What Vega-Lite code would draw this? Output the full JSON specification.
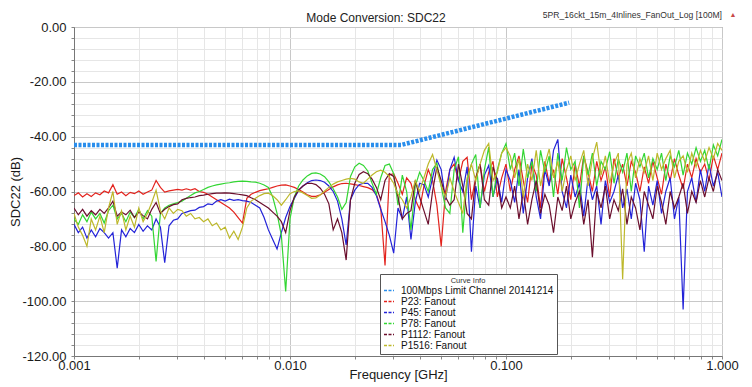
{
 "$schema": "https://vega.github.io/schema/vega-lite/v6.json",
 "width": 648, "height": 329,
 "autosize": {"type": "none"},
 "padding": {"left": 74, "top": 27, "right": 30, "bottom": 31},
 "background": "white",
 "title": {"text": "Mode Conversion: SDC22", "fontSize": 12, "fontWeight": "normal", "font": "Liberation Sans", "color": "#222", "anchor": "middle", "dx": -22, "offset": 0, "dy": 14},
 "config": {
  "font": "Liberation Sans",
  "view": {"stroke": "#8a8a8a", "strokeWidth": 1},
  "axis": {"labelFont": "Liberation Sans", "titleFont": "Liberation Sans", "labelFontSize": 13, "titleFontSize": 13, "titleFontWeight": "normal", "labelColor": "#1a1a1a", "titleColor": "#1a1a1a", "domainColor": "#777", "tickColor": "#888", "gridWidth": 1}
 },
 "datasets": {
  "limit": [
   {"f": 0.001, "v": -43, "s": "100Mbps Limit Channel 20141214"},
   {"f": 0.0328, "v": -43, "s": "100Mbps Limit Channel 20141214"},
   {"f": 0.196, "v": -27.6, "s": "100Mbps Limit Channel 20141214"}
  ],
  "notes": [
   {"f": 1, "v": 0, "note": "5PR_16ckt_15m_4Inlines_FanOut_Log [100M]", "mark": "▲"}
  ],
  "traces": [
   {"f":0.001,"P23: Fanout":-61.5,"P45: Fanout":-72,"P78: Fanout":-70,"P1112: Fanout":-66,"P1516: Fanout":-68},
   {"f":0.001047,"P23: Fanout":-60.5,"P45: Fanout":-75,"P78: Fanout":-72,"P1112: Fanout":-68.5,"P1516: Fanout":-73},
   {"f":0.001096,"P23: Fanout":-62,"P45: Fanout":-73,"P78: Fanout":-68.5,"P1112: Fanout":-66.5,"P1516: Fanout":-76},
   {"f":0.001148,"P23: Fanout":-60.8,"P45: Fanout":-77,"P78: Fanout":-71,"P1112: Fanout":-69,"P1516: Fanout":-80},
   {"f":0.001202,"P23: Fanout":-61.8,"P45: Fanout":-74,"P78: Fanout":-67.5,"P1112: Fanout":-67,"P1516: Fanout":-70},
   {"f":0.001259,"P23: Fanout":-60.5,"P45: Fanout":-76.5,"P78: Fanout":-70,"P1112: Fanout":-68.5,"P1516: Fanout":-74},
   {"f":0.001318,"P23: Fanout":-61.2,"P45: Fanout":-73.5,"P78: Fanout":-68,"P1112: Fanout":-66.5,"P1516: Fanout":-69},
   {"f":0.00138,"P23: Fanout":-59.8,"P45: Fanout":-75,"P78: Fanout":-71.5,"P1112: Fanout":-68,"P1516: Fanout":-75},
   {"f":0.001445,"P23: Fanout":-60.5,"P45: Fanout":-77,"P78: Fanout":-67,"P1112: Fanout":-66,"P1516: Fanout":-66},
   {"f":0.001514,"P23: Fanout":-57.5,"P45: Fanout":-75,"P78: Fanout":-65,"P1112: Fanout":-63.5,"P1516: Fanout":-60},
   {"f":0.001585,"P23: Fanout":-61,"P45: Fanout":-88,"P78: Fanout":-70,"P1112: Fanout":-69,"P1516: Fanout":-72},
   {"f":0.00166,"P23: Fanout":-60.2,"P45: Fanout":-74,"P78: Fanout":-68,"P1112: Fanout":-67.5,"P1516: Fanout":-67},
   {"f":0.001738,"P23: Fanout":-61.5,"P45: Fanout":-76.5,"P78: Fanout":-71,"P1112: Fanout":-68.5,"P1516: Fanout":-74},
   {"f":0.00182,"P23: Fanout":-60.3,"P45: Fanout":-73.5,"P78: Fanout":-67.5,"P1112: Fanout":-66.8,"P1516: Fanout":-69},
   {"f":0.001905,"P23: Fanout":-60.8,"P45: Fanout":-75,"P78: Fanout":-69.5,"P1112: Fanout":-69.5,"P1516: Fanout":-73},
   {"f":0.001995,"P23: Fanout":-59.8,"P45: Fanout":-72,"P78: Fanout":-66.5,"P1112: Fanout":-67.5,"P1516: Fanout":-66},
   {"f":0.002089,"P23: Fanout":-61,"P45: Fanout":-74.5,"P78: Fanout":-70,"P1112: Fanout":-68.8,"P1516: Fanout":-71},
   {"f":0.002188,"P23: Fanout":-60.2,"P45: Fanout":-72.5,"P78: Fanout":-67,"P1112: Fanout":-70,"P1516: Fanout":-68},
   {"f":0.002291,"P23: Fanout":-59.5,"P45: Fanout":-74,"P78: Fanout":-69,"P1112: Fanout":-66.5,"P1516: Fanout":-64},
   {"f":0.002399,"P23: Fanout":-56,"P45: Fanout":-70,"P78: Fanout":-85.5,"P1112: Fanout":-64,"P1516: Fanout":-59.5},
   {"f":0.002512,"P23: Fanout":-58.5,"P45: Fanout":-73,"P78: Fanout":-68,"P1112: Fanout":-68,"P1516: Fanout":-67},
   {"f":0.00263,"P23: Fanout":-60.2,"P45: Fanout":-86,"P78: Fanout":-66,"P1112: Fanout":-66.5,"P1516: Fanout":-70},
   {"f":0.002754,"P23: Fanout":-59.8,"P45: Fanout":-72.5,"P78: Fanout":-65,"P1112: Fanout":-65.5,"P1516: Fanout":-66},
   {"f":0.002884,"P23: Fanout":-59.5,"P45: Fanout":-70.5,"P78: Fanout":-64.5,"P1112: Fanout":-64.8,"P1516: Fanout":-68},
   {"f":0.00302,"P23: Fanout":-59.2,"P45: Fanout":-70,"P78: Fanout":-64,"P1112: Fanout":-64.5,"P1516: Fanout":-66.5},
   {"f":0.003162,"P23: Fanout":-59.5,"P45: Fanout":-68,"P78: Fanout":-63.5,"P1112: Fanout":-63,"P1516: Fanout":-67},
   {"f":0.003311,"P23: Fanout":-59,"P45: Fanout":-67.5,"P78: Fanout":-62.5,"P1112: Fanout":-62.5,"P1516: Fanout":-69},
   {"f":0.003467,"P23: Fanout":-59.5,"P45: Fanout":-67,"P78: Fanout":-61.5,"P1112: Fanout":-62.2,"P1516: Fanout":-68},
   {"f":0.003631,"P23: Fanout":-59,"P45: Fanout":-66.8,"P78: Fanout":-60.5,"P1112: Fanout":-62,"P1516: Fanout":-70},
   {"f":0.003802,"P23: Fanout":-60,"P45: Fanout":-65.8,"P78: Fanout":-60,"P1112: Fanout":-61.5,"P1516: Fanout":-69.5},
   {"f":0.003981,"P23: Fanout":-60.3,"P45: Fanout":-65.5,"P78: Fanout":-59.3,"P1112: Fanout":-61.3,"P1516: Fanout":-71},
   {"f":0.004169,"P23: Fanout":-61,"P45: Fanout":-64.5,"P78: Fanout":-58.5,"P1112: Fanout":-61,"P1516: Fanout":-70},
   {"f":0.004365,"P23: Fanout":-62,"P45: Fanout":-64.8,"P78: Fanout":-58,"P1112: Fanout":-60.8,"P1516: Fanout":-72.5},
   {"f":0.004571,"P23: Fanout":-63,"P45: Fanout":-63.5,"P78: Fanout":-57.6,"P1112: Fanout":-60.6,"P1516: Fanout":-71.5},
   {"f":0.004786,"P23: Fanout":-64,"P45: Fanout":-63,"P78: Fanout":-57.3,"P1112: Fanout":-60.6,"P1516: Fanout":-74},
   {"f":0.005012,"P23: Fanout":-65,"P45: Fanout":-63.5,"P78: Fanout":-57,"P1112: Fanout":-60.5,"P1516: Fanout":-73},
   {"f":0.005248,"P23: Fanout":-66,"P45: Fanout":-62.8,"P78: Fanout":-56.8,"P1112: Fanout":-60.6,"P1516: Fanout":-77},
   {"f":0.005495,"P23: Fanout":-67.5,"P45: Fanout":-63.2,"P78: Fanout":-56.5,"P1112: Fanout":-60.8,"P1516: Fanout":-74.5},
   {"f":0.005754,"P23: Fanout":-69.5,"P45: Fanout":-63,"P78: Fanout":-56.3,"P1112: Fanout":-61,"P1516: Fanout":-77.5},
   {"f":0.006026,"P23: Fanout":-71.5,"P45: Fanout":-63.3,"P78: Fanout":-56.2,"P1112: Fanout":-61.2,"P1516: Fanout":-73},
   {"f":0.00631,"P23: Fanout":-62.5,"P45: Fanout":-63.5,"P78: Fanout":-56.3,"P1112: Fanout":-61.5,"P1516: Fanout":-66},
   {"f":0.006607,"P23: Fanout":-61,"P45: Fanout":-64,"P78: Fanout":-56.5,"P1112: Fanout":-62.3,"P1516: Fanout":-63.5},
   {"f":0.006918,"P23: Fanout":-60.3,"P45: Fanout":-65,"P78: Fanout":-56.6,"P1112: Fanout":-63,"P1516: Fanout":-62.5},
   {"f":0.007244,"P23: Fanout":-59.7,"P45: Fanout":-66,"P78: Fanout":-57,"P1112: Fanout":-64,"P1516: Fanout":-61.5},
   {"f":0.007586,"P23: Fanout":-59.3,"P45: Fanout":-69.5,"P78: Fanout":-57.6,"P1112: Fanout":-65,"P1516: Fanout":-60.8},
   {"f":0.007943,"P23: Fanout":-59,"P45: Fanout":-74,"P78: Fanout":-58.5,"P1112: Fanout":-66,"P1516: Fanout":-60.6},
   {"f":0.008318,"P23: Fanout":-58.5,"P45: Fanout":-77.5,"P78: Fanout":-62,"P1112: Fanout":-67.5,"P1516: Fanout":-61.5},
   {"f":0.00871,"P23: Fanout":-58,"P45: Fanout":-81,"P78: Fanout":-68,"P1112: Fanout":-69,"P1516: Fanout":-63},
   {"f":0.00912,"P23: Fanout":-57.7,"P45: Fanout":-75,"P78: Fanout":-76,"P1112: Fanout":-71,"P1516: Fanout":-65},
   {"f":0.00955,"P23: Fanout":-57.6,"P45: Fanout":-69.5,"P78: Fanout":-96.5,"P1112: Fanout":-75,"P1516: Fanout":-63},
   {"f":0.01,"P23: Fanout":-58,"P45: Fanout":-65.5,"P78: Fanout":-70,"P1112: Fanout":-67,"P1516: Fanout":-60.8},
   {"f":0.010471,"P23: Fanout":-58.5,"P45: Fanout":-62.5,"P78: Fanout":-62,"P1112: Fanout":-62,"P1516: Fanout":-60},
   {"f":0.010965,"P23: Fanout":-59.3,"P45: Fanout":-59.5,"P78: Fanout":-58,"P1112: Fanout":-59.5,"P1516: Fanout":-59.8},
   {"f":0.011482,"P23: Fanout":-60.2,"P45: Fanout":-58,"P78: Fanout":-55.8,"P1112: Fanout":-58,"P1516: Fanout":-60.5},
   {"f":0.012023,"P23: Fanout":-61.2,"P45: Fanout":-56.8,"P78: Fanout":-54.3,"P1112: Fanout":-57,"P1516: Fanout":-61.5},
   {"f":0.012589,"P23: Fanout":-61.8,"P45: Fanout":-56,"P78: Fanout":-53.4,"P1112: Fanout":-57,"P1516: Fanout":-62.5},
   {"f":0.013183,"P23: Fanout":-61.8,"P45: Fanout":-55.8,"P78: Fanout":-53.2,"P1112: Fanout":-57.5,"P1516: Fanout":-62.3},
   {"f":0.013804,"P23: Fanout":-61.2,"P45: Fanout":-56,"P78: Fanout":-53.6,"P1112: Fanout":-58.8,"P1516: Fanout":-61.3},
   {"f":0.014454,"P23: Fanout":-60.3,"P45: Fanout":-56.6,"P78: Fanout":-54.6,"P1112: Fanout":-61,"P1516: Fanout":-59.8},
   {"f":0.015136,"P23: Fanout":-59.3,"P45: Fanout":-58,"P78: Fanout":-56.5,"P1112: Fanout":-64.5,"P1516: Fanout":-58.5},
   {"f":0.015849,"P23: Fanout":-58.3,"P45: Fanout":-60,"P78: Fanout":-59,"P1112: Fanout":-74,"P1516: Fanout":-57.3},
   {"f":0.016596,"P23: Fanout":-57.6,"P45: Fanout":-63.5,"P78: Fanout":-62,"P1112: Fanout":-70,"P1516: Fanout":-56.5},
   {"f":0.017378,"P23: Fanout":-57.1,"P45: Fanout":-70,"P78: Fanout":-66.5,"P1112: Fanout":-75,"P1516: Fanout":-56},
   {"f":0.018197,"P23: Fanout":-57,"P45: Fanout":-79.5,"P78: Fanout":-64,"P1112: Fanout":-85,"P1516: Fanout":-55.5},
   {"f":0.019055,"P23: Fanout":-57.2,"P45: Fanout":-63,"P78: Fanout":-54.5,"P1112: Fanout":-63,"P1516: Fanout":-55.2},
   {"f":0.019953,"P23: Fanout":-57.5,"P45: Fanout":-59.5,"P78: Fanout":-51,"P1112: Fanout":-57,"P1516: Fanout":-55.5},
   {"f":0.020893,"P23: Fanout":-57.8,"P45: Fanout":-57.5,"P78: Fanout":-49.7,"P1112: Fanout":-53.8,"P1516: Fanout":-56.5},
   {"f":0.021878,"P23: Fanout":-58.2,"P45: Fanout":-57,"P78: Fanout":-50.5,"P1112: Fanout":-52.8,"P1516: Fanout":-57},
   {"f":0.022909,"P23: Fanout":-58.6,"P45: Fanout":-57,"P78: Fanout":-52.5,"P1112: Fanout":-53.5,"P1516: Fanout":-55.5},
   {"f":0.023988,"P23: Fanout":-59.3,"P45: Fanout":-58.5,"P78: Fanout":-57,"P1112: Fanout":-55.5,"P1516: Fanout":-54},
   {"f":0.025119,"P23: Fanout":-61,"P45: Fanout":-61.5,"P78: Fanout":-61,"P1112: Fanout":-58.5,"P1516: Fanout":-52.8},
   {"f":0.026303,"P23: Fanout":-66,"P45: Fanout":-66.5,"P78: Fanout":-55,"P1112: Fanout":-63,"P1516: Fanout":-52.2},
   {"f":0.027542,"P23: Fanout":-87,"P45: Fanout":-71,"P78: Fanout":-50.5,"P1112: Fanout":-56,"P1516: Fanout":-53},
   {"f":0.02884,"P23: Fanout":-54,"P45: Fanout":-76,"P78: Fanout":-50,"P1112: Fanout":-53.5,"P1516: Fanout":-54.6},
   {"f":0.0302,"P23: Fanout":-53.5,"P45: Fanout":-82.5,"P78: Fanout":-53.5,"P1112: Fanout":-54.5,"P1516: Fanout":-57},
   {"f":0.031623,"P23: Fanout":-57,"P45: Fanout":-66,"P78: Fanout":-65,"P1112: Fanout":-62,"P1516: Fanout":-61},
   {"f":0.033113,"P23: Fanout":-61,"P45: Fanout":-70,"P78: Fanout":-54,"P1112: Fanout":-70,"P1516: Fanout":-63},
   {"f":0.034674,"P23: Fanout":-55,"P45: Fanout":-62,"P78: Fanout":-60,"P1112: Fanout":-68,"P1516: Fanout":-66},
   {"f":0.036308,"P23: Fanout":-57,"P45: Fanout":-77.5,"P78: Fanout":-74,"P1112: Fanout":-67,"P1516: Fanout":-62},
   {"f":0.038019,"P23: Fanout":-63,"P45: Fanout":-64,"P78: Fanout":-58,"P1112: Fanout":-56,"P1516: Fanout":-56},
   {"f":0.039811,"P23: Fanout":-66.5,"P45: Fanout":-57,"P78: Fanout":-53,"P1112: Fanout":-62,"P1516: Fanout":-60},
   {"f":0.041687,"P23: Fanout":-58,"P45: Fanout":-57.5,"P78: Fanout":-56,"P1112: Fanout":-67,"P1516: Fanout":-55},
   {"f":0.043652,"P23: Fanout":-52,"P45: Fanout":-62,"P78: Fanout":-60,"P1112: Fanout":-72,"P1516: Fanout":-50},
   {"f":0.045709,"P23: Fanout":-56,"P45: Fanout":-55,"P78: Fanout":-52,"P1112: Fanout":-60,"P1516: Fanout":-46.5},
   {"f":0.047863,"P23: Fanout":-65,"P45: Fanout":-48.5,"P78: Fanout":-49.7,"P1112: Fanout":-51,"P1516: Fanout":-52},
   {"f":0.050119,"P23: Fanout":-80,"P45: Fanout":-52,"P78: Fanout":-58,"P1112: Fanout":-56,"P1516: Fanout":-58},
   {"f":0.052481,"P23: Fanout":-60,"P45: Fanout":-63,"P78: Fanout":-66,"P1112: Fanout":-62,"P1516: Fanout":-62},
   {"f":0.054954,"P23: Fanout":-52,"P45: Fanout":-52,"P78: Fanout":-68,"P1112: Fanout":-65,"P1516: Fanout":-55},
   {"f":0.057544,"P23: Fanout":-50,"P45: Fanout":-47.5,"P78: Fanout":-52,"P1112: Fanout":-63,"P1516: Fanout":-60},
   {"f":0.060256,"P23: Fanout":-56,"P45: Fanout":-56,"P78: Fanout":-47.3,"P1112: Fanout":-50,"P1516: Fanout":-64},
   {"f":0.063096,"P23: Fanout":-49,"P45: Fanout":-60,"P78: Fanout":-75,"P1112: Fanout":-58,"P1516: Fanout":-68},
   {"f":0.066069,"P23: Fanout":-47.5,"P45: Fanout":-51,"P78: Fanout":-56,"P1112: Fanout":-68,"P1516: Fanout":-55},
   {"f":0.069183,"P23: Fanout":-63,"P45: Fanout":-82,"P78: Fanout":-50,"P1112: Fanout":-70,"P1516: Fanout":-50},
   {"f":0.072444,"P23: Fanout":-55,"P45: Fanout":-58,"P78: Fanout":-46.5,"P1112: Fanout":-55,"P1516: Fanout":-56},
   {"f":0.075858,"P23: Fanout":-50,"P45: Fanout":-66,"P78: Fanout":-66,"P1112: Fanout":-50,"P1516: Fanout":-50},
   {"f":0.079433,"P23: Fanout":-60,"P45: Fanout":-54,"P78: Fanout":-52,"P1112: Fanout":-63,"P1516: Fanout":-45},
   {"f":0.083176,"P23: Fanout":-53,"P45: Fanout":-50.5,"P78: Fanout":-43.8,"P1112: Fanout":-65,"P1516: Fanout":-42.5},
   {"f":0.087096,"P23: Fanout":-49,"P45: Fanout":-62,"P78: Fanout":-62,"P1112: Fanout":-51,"P1516: Fanout":-56},
   {"f":0.091201,"P23: Fanout":-62,"P45: Fanout":-55,"P78: Fanout":-52,"P1112: Fanout":-56,"P1516: Fanout":-53},
   {"f":0.095499,"P23: Fanout":-55,"P45: Fanout":-64,"P78: Fanout":-46,"P1112: Fanout":-66,"P1516: Fanout":-46},
   {"f":0.1,"P23: Fanout":-50,"P45: Fanout":-52,"P78: Fanout":-42.5,"P1112: Fanout":-62,"P1516: Fanout":-44},
   {"f":0.10471,"P23: Fanout":-60,"P45: Fanout":-56,"P78: Fanout":-52,"P1112: Fanout":-66,"P1516: Fanout":-47},
   {"f":0.10965,"P23: Fanout":-52,"P45: Fanout":-64,"P78: Fanout":-46,"P1112: Fanout":-58,"P1516: Fanout":-55},
   {"f":0.11482,"P23: Fanout":-47,"P45: Fanout":-52,"P78: Fanout":-58,"P1112: Fanout":-70,"P1516: Fanout":-48},
   {"f":0.12023,"P23: Fanout":-56,"P45: Fanout":-68,"P78: Fanout":-44.5,"P1112: Fanout":-60,"P1516: Fanout":-62},
   {"f":0.12589,"P23: Fanout":-64,"P45: Fanout":-55,"P78: Fanout":-55,"P1112: Fanout":-72,"P1516: Fanout":-50},
   {"f":0.13183,"P23: Fanout":-50,"P45: Fanout":-48,"P78: Fanout":-49,"P1112: Fanout":-63,"P1516: Fanout":-56},
   {"f":0.13804,"P23: Fanout":-54,"P45: Fanout":-62,"P78: Fanout":-60,"P1112: Fanout":-56,"P1516: Fanout":-45},
   {"f":0.14454,"P23: Fanout":-66,"P45: Fanout":-70,"P78: Fanout":-45,"P1112: Fanout":-68,"P1516: Fanout":-58},
   {"f":0.15136,"P23: Fanout":-49,"P45: Fanout":-52,"P78: Fanout":-53,"P1112: Fanout":-61,"P1516: Fanout":-50},
   {"f":0.15849,"P23: Fanout":-57,"P45: Fanout":-58,"P78: Fanout":-47,"P1112: Fanout":-65,"P1516: Fanout":-44.5},
   {"f":0.16596,"P23: Fanout":-52,"P45: Fanout":-45,"P78: Fanout":-62,"P1112: Fanout":-75,"P1516: Fanout":-55},
   {"f":0.17378,"P23: Fanout":-61,"P45: Fanout":-41,"P78: Fanout":-46,"P1112: Fanout":-62,"P1516: Fanout":-49},
   {"f":0.18197,"P23: Fanout":-48,"P45: Fanout":-60,"P78: Fanout":-56,"P1112: Fanout":-67,"P1516: Fanout":-60},
   {"f":0.19055,"P23: Fanout":-55,"P45: Fanout":-66,"P78: Fanout":-44,"P1112: Fanout":-58,"P1516: Fanout":-52},
   {"f":0.19953,"P23: Fanout":-63,"P45: Fanout":-54,"P78: Fanout":-52,"P1112: Fanout":-70,"P1516: Fanout":-47},
   {"f":0.20893,"P23: Fanout":-50,"P45: Fanout":-62,"P78: Fanout":-49,"P1112: Fanout":-64,"P1516: Fanout":-56},
   {"f":0.21878,"P23: Fanout":-58,"P45: Fanout":-57,"P78: Fanout":-66,"P1112: Fanout":-60,"P1516: Fanout":-50},
   {"f":0.22909,"P23: Fanout":-47,"P45: Fanout":-69,"P78: Fanout":-47,"P1112: Fanout":-72,"P1516: Fanout":-45},
   {"f":0.23988,"P23: Fanout":-53,"P45: Fanout":-55,"P78: Fanout":-54,"P1112: Fanout":-63,"P1516: Fanout":-58},
   {"f":0.25119,"P23: Fanout":-60,"P45: Fanout":-63,"P78: Fanout":-46,"P1112: Fanout":-84,"P1516: Fanout":-48},
   {"f":0.26303,"P23: Fanout":-49,"P45: Fanout":-58,"P78: Fanout":-58,"P1112: Fanout":-60,"P1516: Fanout":-42},
   {"f":0.27542,"P23: Fanout":-56,"P45: Fanout":-72,"P78: Fanout":-49,"P1112: Fanout":-66,"P1516: Fanout":-54},
   {"f":0.2884,"P23: Fanout":-51,"P45: Fanout":-56,"P78: Fanout":-52,"P1112: Fanout":-58,"P1516: Fanout":-47},
   {"f":0.302,"P23: Fanout":-62,"P45: Fanout":-64,"P78: Fanout":-45.5,"P1112: Fanout":-70,"P1516: Fanout":-57},
   {"f":0.31623,"P23: Fanout":-48,"P45: Fanout":-60,"P78: Fanout":-57,"P1112: Fanout":-63,"P1516: Fanout":-50},
   {"f":0.33113,"P23: Fanout":-55,"P45: Fanout":-54,"P78: Fanout":-48,"P1112: Fanout":-67,"P1516: Fanout":-46},
   {"f":0.34674,"P23: Fanout":-50,"P45: Fanout":-66,"P78: Fanout":-53,"P1112: Fanout":-59,"P1516: Fanout":-92},
   {"f":0.36308,"P23: Fanout":-58,"P45: Fanout":-59,"P78: Fanout":-46,"P1112: Fanout":-72,"P1516: Fanout":-50},
   {"f":0.38019,"P23: Fanout":-49,"P45: Fanout":-70,"P78: Fanout":-60,"P1112: Fanout":-62,"P1516: Fanout":-46},
   {"f":0.39811,"P23: Fanout":-53,"P45: Fanout":-57,"P78: Fanout":-47,"P1112: Fanout":-66,"P1516: Fanout":-55},
   {"f":0.41687,"P23: Fanout":-60,"P45: Fanout":-63,"P78: Fanout":-51,"P1112: Fanout":-74,"P1516: Fanout":-48},
   {"f":0.43652,"P23: Fanout":-51,"P45: Fanout":-82,"P78: Fanout":-46,"P1112: Fanout":-60,"P1516: Fanout":-53},
   {"f":0.45709,"P23: Fanout":-57,"P45: Fanout":-58,"P78: Fanout":-55,"P1112: Fanout":-65,"P1516: Fanout":-47},
   {"f":0.47863,"P23: Fanout":-49,"P45: Fanout":-65,"P78: Fanout":-48,"P1112: Fanout":-70,"P1516: Fanout":-56},
   {"f":0.50119,"P23: Fanout":-55,"P45: Fanout":-56,"P78: Fanout":-52,"P1112: Fanout":-58,"P1516: Fanout":-46},
   {"f":0.52481,"P23: Fanout":-61,"P45: Fanout":-68,"P78: Fanout":-46,"P1112: Fanout":-64,"P1516: Fanout":-52},
   {"f":0.54954,"P23: Fanout":-50,"P45: Fanout":-60,"P78: Fanout":-56,"P1112: Fanout":-72,"P1516: Fanout":-48},
   {"f":0.57544,"P23: Fanout":-56,"P45: Fanout":-55,"P78: Fanout":-47,"P1112: Fanout":-60,"P1516: Fanout":-45},
   {"f":0.60256,"P23: Fanout":-48,"P45: Fanout":-70,"P78: Fanout":-51,"P1112: Fanout":-66,"P1516: Fanout":-55},
   {"f":0.63096,"P23: Fanout":-54,"P45: Fanout":-62,"P78: Fanout":-45,"P1112: Fanout":-62,"P1516: Fanout":-49},
   {"f":0.66069,"P23: Fanout":-59,"P45: Fanout":-103,"P78: Fanout":-54,"P1112: Fanout":-57,"P1516: Fanout":-47},
   {"f":0.69183,"P23: Fanout":-50,"P45: Fanout":-60,"P78: Fanout":-46,"P1112: Fanout":-68,"P1516: Fanout":-53},
   {"f":0.72444,"P23: Fanout":-55,"P45: Fanout":-55,"P78: Fanout":-50,"P1112: Fanout":-60,"P1516: Fanout":-46},
   {"f":0.75858,"P23: Fanout":-48,"P45: Fanout":-64,"P78: Fanout":-44,"P1112: Fanout":-64,"P1516: Fanout":-51},
   {"f":0.79433,"P23: Fanout":-53,"P45: Fanout":-52,"P78: Fanout":-49,"P1112: Fanout":-56,"P1516: Fanout":-45},
   {"f":0.83176,"P23: Fanout":-50,"P45: Fanout":-60,"P78: Fanout":-45,"P1112: Fanout":-62,"P1516: Fanout":-49},
   {"f":0.87096,"P23: Fanout":-56,"P45: Fanout":-50,"P78: Fanout":-52,"P1112: Fanout":-55,"P1516: Fanout":-44},
   {"f":0.91201,"P23: Fanout":-47,"P45: Fanout":-58,"P78: Fanout":-43,"P1112: Fanout":-60,"P1516: Fanout":-48},
   {"f":0.95499,"P23: Fanout":-52,"P45: Fanout":-53,"P78: Fanout":-47,"P1112: Fanout":-52,"P1516: Fanout":-42.5},
   {"f":1.0,"P23: Fanout":-46,"P45: Fanout":-62,"P78: Fanout":-41,"P1112: Fanout":-56,"P1516: Fanout":-45}
  ]
 },
 "encoding": {
  "x": {"field": "f", "type": "quantitative",
   "scale": {"type": "log", "domain": [0.001, 1], "nice": false},
   "axis": {"title": "Frequency [GHz]", "values": [0.001,0.002,0.003,0.004,0.005,0.006,0.007,0.008,0.009,0.01,0.02,0.03,0.04,0.05,0.06,0.07,0.08,0.09,0.1,0.2,0.3,0.4,0.5,0.6,0.7,0.8,0.9,1],
    "labelExpr": "indexof([0.001,0.01,0.1,1], datum.value) >= 0 ? format(datum.value, '.3f') : ''",
    "gridColor": {"condition": {"test": "indexof([0.001,0.01,0.1,1], datum.value) >= 0", "value": "#c8c8c8"}, "value": "#e6e6e6"},
    "labelFlush": false, "labelOverlap": false, "tickSize": 3, "labelPadding": 0, "titlePadding": -4}},
  "y": {"field": "v", "type": "quantitative",
   "scale": {"domain": [-120, 0], "nice": false, "zero": false},
   "axis": {"title": "SDC22 (dB)", "values": [-120,-116,-112,-108,-104,-100,-96,-92,-88,-84,-80,-76,-72,-68,-64,-60,-56,-52,-48,-44,-40,-36,-32,-28,-24,-20,-16,-12,-8,-4,0],
    "labelExpr": "datum.value % 20 == 0 ? (datum.value < 0 ? '-' : '') + format(abs(datum.value), '.2f') : ''",
    "gridColor": {"condition": {"test": "datum.value % 20 == 0", "value": "#c8c8c8"}, "value": "#e6e6e6"},
    "labelOverlap": false, "tickSize": 3, "labelPadding": 5, "titlePadding": -1}},
  "color": {"field": "s", "type": "nominal",
   "scale": {"domain": ["100Mbps Limit Channel 20141214", "P23: Fanout", "P45: Fanout", "P78: Fanout", "P1112: Fanout", "P1516: Fanout"],
    "range": ["#2a8eec", "#e3231d", "#2323d8", "#33d633", "#6b0f2d", "#bdb82b"]},
   "legend": {"orient": "none", "legendX": 306, "legendY": 247, "title": "Curve Info", "titleFontSize": 7.5, "titleFontWeight": "normal", "titleAnchor": "middle", "titleColor": "#333", "titlePadding": 0, "labelFontSize": 10, "labelColor": "#111", "labelLimit": 300, "symbolType": "stroke", "symbolSize": 100, "symbolStrokeWidth": 1.5, "symbolDash": [3, 1.5], "rowPadding": 0, "padding": 3, "strokeColor": "#555", "fillColor": "white", "labelOffset": 6}}
 },
 "layer": [
  {"data": {"name": "limit"}, "mark": {"type": "line", "strokeWidth": 4.5, "strokeDash": [3, 1.5], "clip": true}},
  {"data": {"name": "traces"},
   "transform": [{"fold": ["P23: Fanout", "P45: Fanout", "P78: Fanout", "P1112: Fanout", "P1516: Fanout"], "as": ["s", "v"]}],
   "mark": {"type": "line", "strokeWidth": 1.2, "clip": true}},
  {"data": {"name": "notes"}, "mark": {"type": "text", "align": "right", "baseline": "bottom", "dy": -7, "fontSize": 8.6, "clip": false},
   "encoding": {"text": {"field": "note"}, "color": {"value": "#333"}}},
  {"data": {"name": "notes"}, "mark": {"type": "text", "align": "center", "baseline": "bottom", "dy": -9, "dx": 11, "fontSize": 7, "clip": false},
   "encoding": {"text": {"field": "mark"}, "color": {"value": "#c84848"}}}
 ]
}
